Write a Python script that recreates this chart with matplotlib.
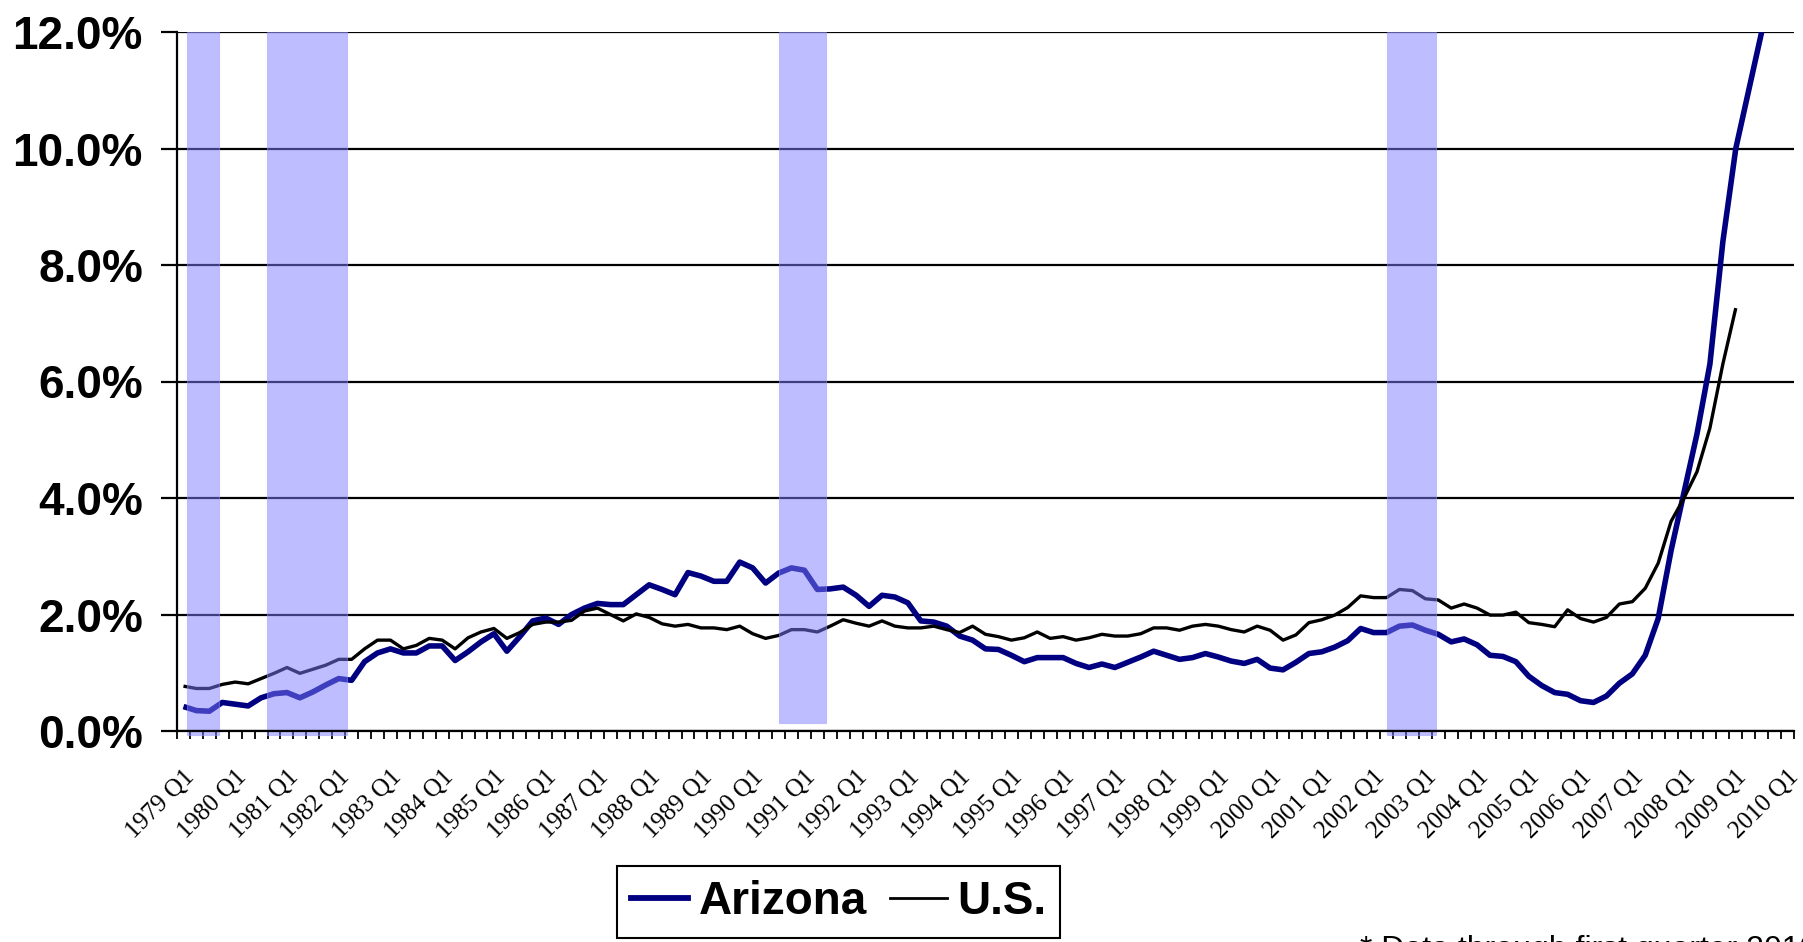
import matplotlib
matplotlib.use("Agg")
import matplotlib.pyplot as plt
from matplotlib.lines import Line2D
from matplotlib.font_manager import FontProperties
from matplotlib.ticker import FixedLocator, FuncFormatter

# ---------------- data ----------------
tick_labels = [f"{y} Q1" for y in range(1979, 2011)]
n_quarters = 125  # 1979 Q1 .. 2010 Q1

arizona = [
    0.42, 0.35, 0.34, 0.49, 0.46, 0.43, 0.57, 0.64, 0.66, 0.57,
    0.67, 0.79, 0.90, 0.87, 1.19, 1.34, 1.41, 1.34, 1.34, 1.46,
    1.46, 1.21, 1.36, 1.53, 1.67, 1.37, 1.62, 1.89, 1.94, 1.83,
    2.00, 2.11, 2.19, 2.17, 2.17, 2.34, 2.51, 2.43, 2.34, 2.72,
    2.66, 2.57, 2.57, 2.90, 2.80, 2.54, 2.71, 2.80, 2.76, 2.43,
    2.44, 2.47, 2.33, 2.14, 2.33, 2.30, 2.20, 1.89, 1.87, 1.80,
    1.63, 1.56, 1.41, 1.40, 1.30, 1.19, 1.26, 1.26, 1.26, 1.16,
    1.09, 1.15, 1.09, 1.18, 1.27, 1.37, 1.30, 1.23, 1.26, 1.33,
    1.27, 1.20, 1.16, 1.23, 1.08, 1.05, 1.18, 1.33, 1.36, 1.44,
    1.55, 1.76, 1.69, 1.69, 1.80, 1.82, 1.73, 1.66, 1.53, 1.58,
    1.48, 1.30, 1.28, 1.19, 0.94, 0.78, 0.66, 0.63, 0.52, 0.49,
    0.60, 0.82, 0.98, 1.30, 1.93, 3.10, 4.10, 5.10, 6.30, 8.40,
    10.00, 11.00, 12.00,
]

us = [
    0.77, 0.73, 0.73, 0.80, 0.84, 0.81, 0.90, 0.99, 1.09, 0.99,
    1.06, 1.13, 1.23, 1.23, 1.41, 1.56, 1.56, 1.41, 1.47, 1.59,
    1.56, 1.41, 1.60, 1.70, 1.76, 1.59, 1.69, 1.83, 1.87, 1.87,
    1.90, 2.06, 2.11, 2.00, 1.89, 2.01, 1.95, 1.84, 1.80, 1.83,
    1.77, 1.77, 1.74, 1.80, 1.67, 1.59, 1.64, 1.74, 1.74, 1.70,
    1.80, 1.91, 1.85, 1.80, 1.89, 1.80, 1.77, 1.77, 1.80, 1.74,
    1.69, 1.80, 1.66, 1.62, 1.56, 1.60, 1.70, 1.59, 1.62, 1.56,
    1.60, 1.66, 1.63, 1.63, 1.67, 1.77, 1.77, 1.73, 1.80, 1.83,
    1.80, 1.74, 1.70, 1.80, 1.73, 1.56, 1.65, 1.86, 1.91, 1.99,
    2.12, 2.32, 2.29, 2.29, 2.43, 2.41, 2.27, 2.25, 2.11, 2.18,
    2.11, 1.99, 1.99, 2.04, 1.86, 1.83, 1.79, 2.08, 1.93, 1.87,
    1.95, 2.18, 2.22, 2.45, 2.88, 3.60, 4.00, 4.45, 5.20, 6.30,
    7.26,
]

# recession shading (in quarter-index units) and their lower bound (%)
band_start = [0.27, 6.48, 46.02, 93.06]
band_end = [2.75, 12.61, 49.68, 96.81]
band_bottom = [-0.07, -0.07, 0.14, -0.07]

y_ticks = [0, 2, 4, 6, 8, 10, 12]

# ---------------- figure ----------------
W, H = 1803, 942
fig = plt.figure(figsize=(W / 100, H / 100), dpi=100)
ax = fig.add_axes([177 / W, 1 - 731 / H, (1794 - 177) / W, (731 - 32) / H])

sans_bold = FontProperties(family=["Liberation Sans", "DejaVu Sans"], weight="bold", size=33)
serif = FontProperties(family=["Liberation Serif", "DejaVu Serif"], size=18)

# gridlines
for yv in y_ticks:
    ax.axhline(yv, color="black", lw=1.6, zorder=1)

x_az = list(range(len(arizona)))
x_us = list(range(len(us)))
ax.plot(x_az, arizona, color="#000080", lw=4.0, solid_joinstyle="round",
        solid_capstyle="butt", zorder=3, label="Arizona")
ax.plot(x_us, us, color="black", lw=2.4, solid_joinstyle="round",
        solid_capstyle="butt", zorder=3, label="U.S.")

for s, e, b in zip(band_start, band_end, band_bottom):
    ax.fill_between([s, e], [b, b], [12, 12], facecolor="#7c7cff", alpha=0.5,
                    edgecolor="#9a9aff", lw=0.8, zorder=4, clip_on=False)

ax.set_xlim(-0.5, n_quarters - 0.5)
ax.set_ylim(0, 12)

# axes styling
for side in ["top", "right"]:
    ax.spines[side].set_visible(False)
ax.spines["left"].set_linewidth(1.6)
ax.spines["bottom"].set_linewidth(1.6)
ax.spines["left"].set_zorder(5)
ax.spines["bottom"].set_zorder(5)

ax.yaxis.set_major_locator(FixedLocator(y_ticks))
ax.yaxis.set_major_formatter(FuncFormatter(lambda v, p: f"{v:.1f}%"))
ax.tick_params(axis="y", which="major", direction="out", length=11.5, width=1.6,
               pad=13, colors="black")
for lab in ax.get_yticklabels():
    lab.set_fontproperties(sans_bold)

label_pos = list(range(0, n_quarters, 4))
ax.xaxis.set_major_locator(FixedLocator(label_pos))
ax.set_xticklabels(tick_labels)
ax.xaxis.set_minor_locator(FixedLocator([i - 0.5 for i in range(n_quarters + 1)]))
ax.tick_params(axis="x", which="major", length=0, pad=25)
ax.tick_params(axis="x", which="minor", direction="out", length=5.8, width=1.3)
for lab in ax.get_xticklabels():
    lab.set_fontproperties(serif)
    lab.set_rotation(45)
    lab.set_rotation_mode("anchor")
    lab.set_ha("right")
    lab.set_va("top")

# legend
handles = [Line2D([], [], color="#000080", lw=4.2),
           Line2D([], [], color="black", lw=2.0)]
leg = fig.legend(handles, ["Arizona", "U.S."], loc="upper left",
                 bbox_to_anchor=(617 / W, 1 - 866 / H), ncol=2,
                 prop=sans_bold, frameon=True, fancybox=False,
                 handlelength=1.24, handletextpad=0.24, columnspacing=0.5,
                 borderpad=0.3, borderaxespad=0)
leg.get_frame().set_edgecolor("black")
leg.get_frame().set_linewidth(1.5)
leg.get_frame().set_alpha(1)

# footnote (cut off by the bottom/right edge, as in the reference)
fig.text(1360 / W, 1 - 958 / H, "* Data through first quarter 2010",
         fontproperties=FontProperties(family=["Liberation Sans", "DejaVu Sans"], size=23),
         ha="left", va="baseline")

fig.savefig("out.png", dpi=100)
